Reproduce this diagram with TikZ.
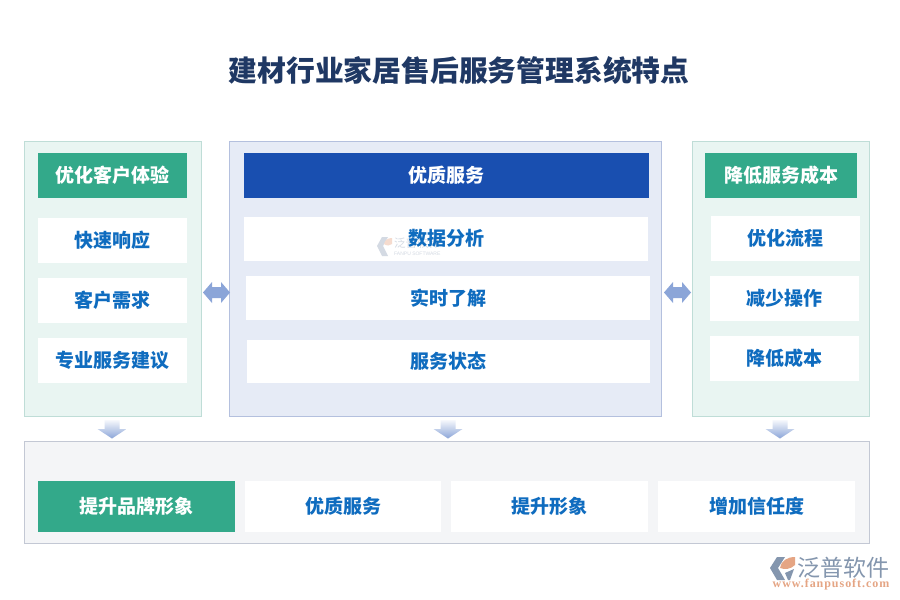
\documentclass[tikz,border=0pt]{standalone}
\usepackage{fontspec}
\setmainfont{Noto Sans CJK SC}
\setsansfont{Liberation Sans}
\newfontfamily\webfont[LetterSpace=8]{Liberation Serif}
\usetikzlibrary{calc}
\definecolor{titlec}{HTML}{1F3864}
\definecolor{greenpanel}{HTML}{E9F5F2}
\definecolor{greenedge}{HTML}{BFDDD7}
\definecolor{greenhead}{HTML}{33A98A}
\definecolor{bluepanel}{HTML}{E6EBF6}
\definecolor{blueedge}{HTML}{B4C0DE}
\definecolor{bluehead}{HTML}{194FB0}
\definecolor{greypanel}{HTML}{F4F5F7}
\definecolor{greyedge}{HTML}{C3C8D4}
\definecolor{itemtext}{HTML}{0F6CBF}
\definecolor{arrowc}{HTML}{8BA5D8}
\definecolor{logogrey}{HTML}{8496AE}
\definecolor{logoorange}{HTML}{E5A584}
\tikzset{
  x=1pt,y=-1pt,
  panel/.style={draw=#1,line width=0.9pt,inner sep=0pt},
  box/.style 2 args={anchor=north west,minimum width=#1,minimum height=#2,inner sep=0pt,outer sep=0pt},
  itembox/.style={fill=white,text=itemtext,font=\fontsize{19}{19}\selectfont\bfseries},
  headgreen/.style={fill=greenhead,text=white,font=\fontsize{19}{19}\selectfont\bfseries},
  headblue/.style={fill=bluehead,text=white,font=\fontsize{19}{19}\selectfont\bfseries},
}
\newcommand{\lrarrow}[2]{%
  \fill[arrowc] (#1-13.5,#2) -- (#1-4.5,#2-10.5) -- (#1-4.5,#2-5.5) -- (#1+4.5,#2-5.5) -- (#1+4.5,#2-10.5) -- (#1+13.5,#2) -- (#1+4.5,#2+10.5) -- (#1+4.5,#2+5.5) -- (#1-4.5,#2+5.5) -- (#1-4.5,#2+10.5) -- cycle;}
\newcommand{\dnarrow}[2]{%
  \shade[top color=arrowc!8,bottom color=arrowc] (#1-7.5,#2) -- (#1+7.5,#2) -- (#1+7.5,#2+9) -- (#1+14.5,#2+9) -- (#1,#2+18.5) -- (#1-14.5,#2+9) -- (#1-7.5,#2+9) -- cycle;}
\begin{document}
\begin{tikzpicture}
\useasboundingbox (0,0) rectangle (900,600);
\fill[white] (0,0) rectangle (900,600);
\node[text=titlec,font=\fontsize{28.8}{30}\selectfont\bfseries,inner sep=0pt] (title) at (459,71) {建材行业家居售后服务管理系统特点};

\node[panel=greenedge,fill=greenpanel,box={177}{275}] (pl) at (24.5,141.5) {};
\node[panel=blueedge,fill=bluepanel,box={432}{275}] (pc) at (229.5,141.5) {};
\node[panel=greenedge,fill=greenpanel,box={177}{275}] (pr) at (692.5,141.5) {};
\node[panel=greyedge,fill=greypanel,box={845}{102}] (pb) at (24.5,441.5) {};

\node[headgreen,box={149}{45}] (l0) at (38,153) {优化客户体验};
\node[itembox,box={149}{45}] (l1) at (38,218) {快速响应};
\node[itembox,box={149}{45}] (l2) at (38,278) {客户需求};
\node[itembox,box={149}{45}] (l3) at (38,338) {专业服务建议};

\node[headblue,box={405}{45}] (c0) at (244,153) {优质服务};
\node[itembox,box={404}{44}] (c1) at (244,217) {};
% watermark
\fill[logogrey!35] (377,246) -- (382,237) -- (388,237) -- (383,246) -- (388,256) -- (382,256) -- cycle;
\fill[logoorange!40] (384,244) .. controls (385,240) and (388,238) .. (392,238) -- (392,244) .. controls (390,246) and (387,246) .. (384,244) -- cycle;
\node[text=logogrey!35,font=\fontsize{11.5}{12}\selectfont,inner sep=0pt,anchor=west] (wm1) at (394,243) {泛普软件};
\node[text=logogrey!35,font=\sffamily\fontsize{5}{5}\selectfont,inner sep=0pt,anchor=west] (wm2) at (394,253.5) {FANPU SOFTWARE};
\node[text=itemtext,font=\fontsize{19}{19}\selectfont\bfseries,inner sep=0pt] (c1t) at (446,238) {数据分析};
\node[itembox,box={404}{44}] (c2) at (246,276) {实时了解};
\node[itembox,box={403}{43}] (c3) at (247,340) {服务状态};

\node[headgreen,box={152}{45}] (r0) at (705,153) {降低服务成本};
\node[itembox,box={149}{45}] (r1) at (711,216) {优化流程};
\node[itembox,box={149}{45}] (r2) at (710,276) {减少操作};
\node[itembox,box={149}{45}] (r3) at (710,336) {降低成本};

\node[headgreen,box={197}{51}] (b0) at (38,481) {提升品牌形象};
\node[itembox,box={196}{51}] (b1) at (245,481) {优质服务};
\node[itembox,box={197}{51}] (b2) at (451,481) {提升形象};
\node[itembox,box={197}{51}] (b3) at (658,481) {增加信任度};

\lrarrow{216.5}{292.5}
\lrarrow{677.5}{292.5}
\dnarrow{112}{420}
\dnarrow{448}{420}
\dnarrow{780}{420}

% logo
\fill[logogrey] (770,568) -- (777,557) -- (785,557) -- (778,568) -- (785,580) -- (777,580) -- cycle;
\fill[logoorange] (780,568) .. controls (781,561) and (787,557) .. (795,557) -- (795,565) .. controls (791,569) and (785,570) .. (780,568) -- cycle;
\fill[logogrey] (785,573) -- (794,569) -- (790,580) -- (788,580) -- cycle;
\node[text=logogrey,font=\fontsize{23}{24}\selectfont,inner sep=0pt,anchor=west] (lg1) at (797,567.5) {泛普软件};
\node[text=logoorange,font=\webfont\bfseries\fontsize{12}{12}\selectfont,inner sep=0pt] (lg2) at (831,584.5) {www.fanpusoft.com};
\end{tikzpicture}
\end{document}
